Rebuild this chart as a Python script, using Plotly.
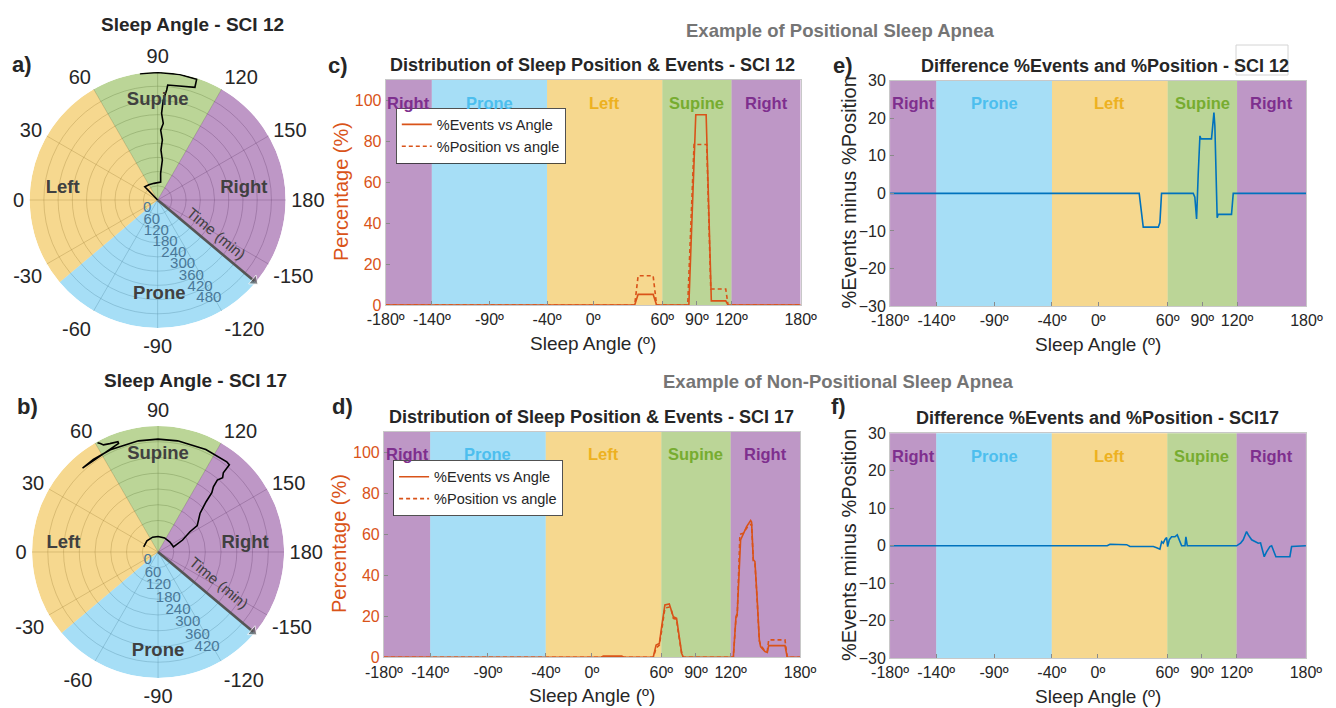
import plotly.graph_objects as go

W, H = 1336, 708
FONT = "Arial, Liberation Sans, sans-serif"
DARK = "#262626"
ORANGE = "#D95319"
BLUE = "#0072BD"

# ---------------- shared position bands ----------------
band_names = ["Right", "Prone", "Left", "Supine", "Right"]
band_starts = [-180, -140, -40, 60, 120]
band_ends = [-140, -40, 60, 120, 180]
pos_fill = {"Right": "rgba(126,47,142,0.5)", "Prone": "rgba(77,190,238,0.5)",
            "Left": "rgba(237,177,32,0.5)", "Supine": "rgba(119,172,48,0.5)"}
pos_text = {"Right": "#7E2F8E", "Prone": "#4DBEEE", "Left": "#EDB120", "Supine": "#77AC30"}

x_tickvals = [-180, -140, -90, -40, 0, 60, 90, 120, 180]
x_ticktext = ["-180º", "-140º", "-90º", "-40º", "0º", "60º", "90º", "120º", "180º"]

# ---------------- polar sectors ----------------
sector_names = ["Supine", "Right", "Prone", "Left"]
sector_from = [60, 120, 220, 320]
sector_to = [120, 220, 320, 420]
ang_tickvals = [0, 30, 60, 90, 120, 150, 180, 210, 240, 270, 300, 330]
ang_ticktext = ["0", "30", "60", "90", "120", "150", "180", "-150", "-120", "-90", "-60", "-30"]

# a) SCI 12 : sleep angle over time
a_theta = [46, 46, 60, 77.5, 99.5, 96.4, 96.7, 93.8, 94.5, 92.5, 94.2, 92.6, 93.2, 94.7, 95,
           108.3, 107.9, 100, 90, 82]
a_time = [0, 78, 74, 72, 77, 113, 170, 211, 254, 295, 324, 366, 422, 466, 487,
          501, 535, 538, 538, 538]
a_rmax = 540
a_rticks = [0, 60, 120, 180, 240, 300, 360, 420, 480]

# b) SCI 17 : sleep angle over time
b_theta = [20, 45, 70, 90, 115, 140, 155, 162, 154, 147.6, 146, 137.3, 133.7, 132.2, 130.3,
           129.5, 131, 129.5, 129.3, 127.3, 115, 100, 90, 80, 65, 55, 48,
           70, 70, 66, 63, 62, 61]
b_time = [58, 60, 60, 59, 59, 59, 60, 62, 104, 144, 180, 218, 265, 305, 326,
          355, 375, 391, 429, 432, 431, 430, 430, 430, 430, 430, 430,
          440, 447, 452, 458, 468, 476]
b_rmax = 480
b_rticks = [0, 60, 120, 180, 240, 300, 360, 420]

# c) SCI 12 distributions
c_angle_ev = [-180, 36, 39, 52, 55, 83, 89, 98, 102.5, 115, 117, 180]
c_events = [0, 0, 5.2, 5.2, 0, 0, 93, 93, 2, 2, 0, 0]
c_angle_pos = [-180, 36, 39, 52, 55, 82, 87.5, 98.5, 102, 115, 117, 180]
c_position = [0, 0, 14.3, 14.3, 0, 0, 78.5, 78.5, 7.8, 7.8, 0, 0]

# e) SCI 12 difference
e_angle = [-180, 35.4, 38.9, 51.9, 53.3, 54.7, 79, 82.1, 83.5, 85, 86.4, 87.9, 88.8, 97.9,
           100, 100.8, 102.8, 103.7, 115.2, 116.7, 180]
e_diff = [0, 0, -9, -9, -7.8, 0, 0, 0, -1, -6.8, 5, 15.3, 14.5, 14.5,
          21.5, 18, -6.5, -5.6, -5.6, 0, 0]

# d) SCI 17 distributions
d_angle_ev = [-180, 8, 9.8, 25.7, 27.5, 53, 55.5, 58.3, 60.3, 61.7, 63.1, 66.9, 68.9, 70.4,
              73.2, 74.7, 77.6, 79, 122.3, 124.6, 125.7, 128.6, 130.9, 133.8, 137.3, 138.1,
              139.6, 141, 143, 144.8, 145.9, 149.7, 151.7, 152.9, 167, 169, 180]
d_events = [0, 0, 0.6, 0.6, 0, 0, 6, 6.8, 15, 21.5, 25.5, 26, 23, 19.8,
            19, 13, 2, 0, 0, 19.8, 21.5, 57.2, 60.5, 63.7, 66.7, 66,
            47.5, 46.7, 28, 8.5, 5.2, 2.8, 2.4, 5.7, 5.7, 0, 0]
d_angle_pos = [-180, 8, 9.8, 25.7, 27.5, 53, 55.5, 58.3, 60.3, 61.7, 63.1, 66.9, 68.9, 70.4,
               73.2, 74.7, 77.6, 79, 122.3, 124.6, 125.7, 128, 130.9, 133.8, 137.3, 138.1,
               139.6, 141, 143, 144.8, 145.9, 149.7, 151.7, 152.9, 167, 169, 180]
d_position = [0, 0, 0.2, 0.2, 0, 0, 4.5, 6, 13, 20, 24, 24.5, 22.5, 19,
              18.5, 12, 2, 0, 0, 19, 20.5, 60, 60.5, 63, 65, 65,
              47, 46, 27, 8, 6, 3, 3, 8.5, 8.5, 0, 0]

# f) SCI 17 difference
f_angle = [-180, 8, 10.4, 24.8, 27.7, 47.9, 50.8, 53.6, 55.1, 56.5, 58, 59.4, 60.3, 61.7,
           63.7, 66.6, 68.6, 70.4, 72.4, 75.3, 76.1, 77.3, 120, 123.4, 125.7, 128.6, 130.1,
           133, 135.8, 138.7, 140.7, 142.5, 143.9, 145.9, 148.8, 150.3, 152.3, 154, 166.1,
           167.6, 180]
f_diff = [0, 0, 0.4, 0.3, -0.2, -0.2, -0.5, -0.9, 1.1, 0.7, 1.7, 2.2, -0.2, 1.6,
          2.4, 2.4, 2.9, 1.7, 0, 0, 2.4, 0, 0, 0.7, 1.6, 3.8, 2.9,
          1.6, 1.1, 0.7, 0.8, -1.1, -2.9, -1.6, -0.2, 0, -1.6, -2.9, -2.9,
          -0.2, 0]

fig = go.Figure()

# ---------------- polar charts ----------------
def add_polar(pid, theta, time, rmax, names_pos):
    for name, s, e in zip(sector_names, sector_from, sector_to):
        fig.add_trace(go.Barpolar(
            r=[rmax], theta=[(s + e) / 2], width=[e - s], subplot=pid,
            marker=dict(color=pos_fill[name], line=dict(width=0)),
            showlegend=False, hoverinfo="skip"))
    fig.add_trace(go.Scatterpolar(
        r=time, theta=theta, mode="lines", subplot=pid,
        line=dict(color="black", width=1.6), showlegend=False))
    # time axis arrow
    fig.add_trace(go.Scatterpolar(
        r=[0, rmax * 0.985], theta=[220, 220], mode="lines+markers", subplot=pid,
        line=dict(color="#555555", width=2.6),
        marker=dict(symbol="triangle-up", size=[0, 10], angle=130, color="#555555"),
        showlegend=False, hoverinfo="skip"))
    lab_theta, lab_r = names_pos
    fig.add_trace(go.Scatterpolar(
        r=lab_r, theta=lab_theta, mode="text", subplot=pid,
        text=["<b>%s</b>" % n for n in sector_names],
        textfont=dict(size=18.5, color="#404040", family=FONT),
        showlegend=False, hoverinfo="skip"))

add_polar("polar", a_theta, a_time, a_rmax, ([90, 172, -91, 7], [422, 367, 400, 404]))
add_polar("polar2", b_theta, b_time, b_rmax, ([90, 174.3, -90, 5.2], [373, 333, 380, 362]))

def polar_layout(domain_x, domain_y, rmax, rticks):
    return dict(
        domain=dict(x=domain_x, y=domain_y),
        bgcolor="white", bargap=0,
        angularaxis=dict(rotation=180, direction="clockwise", tickmode="array",
                         tickvals=ang_tickvals, ticktext=ang_ticktext,
                         tickfont=dict(size=20, color=DARK, family=FONT),
                         showline=False, gridcolor="rgba(90,90,90,0.35)", gridwidth=1,
                         ticks="outside", ticklen=1, tickcolor="rgba(0,0,0,0)"),
        radialaxis=dict(range=[0, rmax], tickmode="array", tickvals=rticks,
                        tickfont=dict(size=15, color="#4A7898", family=FONT),
                        showline=False, gridcolor="rgba(90,90,90,0.35)", gridwidth=1,
                        angle=-52, tickangle=-52, ticks="", layer="above traces"),
    )

# ---------------- cartesian charts ----------------
def add_lines(n, xs, ys, color, dash, name, legend):
    fig.add_trace(go.Scatter(
        x=xs, y=ys, mode="lines", xaxis="x%s" % n, yaxis="y%s" % n,
        line=dict(color=color, width=1.6, dash=dash), name=name,
        showlegend=legend is not None, legend=legend if legend else "legend"))

add_lines("", c_angle_ev, c_events, ORANGE, "solid", "%Events vs Angle", "legend")
add_lines("", c_angle_pos, c_position, ORANGE, "4px,3px", "%Position vs angle", "legend")
add_lines("2", d_angle_ev, d_events, ORANGE, "solid", "%Events vs Angle", "legend2")
add_lines("2", d_angle_pos, d_position, ORANGE, "4px,3px", "%Position vs angle", "legend2")
add_lines("3", e_angle, e_diff, BLUE, "solid", "diff", None)
add_lines("4", f_angle, f_diff, BLUE, "solid", "diff", None)

def xaxis_def(domain, anchor):
    return dict(domain=domain, anchor=anchor, range=[-180, 180], tickmode="array",
                tickvals=x_tickvals, ticktext=x_ticktext, showgrid=False, zeroline=False,
                showline=True, linecolor="#c8c8c8", mirror=True, ticks="inside", ticklen=4,
                tickcolor="#8a8a8a", tickfont=dict(size=16, color=DARK, family=FONT),
                automargin=False)

def yaxis_def(domain, anchor, rng, ticks, color):
    return dict(domain=domain, anchor=anchor, range=rng, tickmode="array", tickvals=ticks,
                showgrid=False, zeroline=False, showline=True, linecolor="#c8c8c8",
                mirror=True, ticks="inside", ticklen=4, tickcolor="#8a8a8a",
                tickfont=dict(size=16, color=color, family=FONT), automargin=False)

c_dom = ([0.2887, 0.5993], [0.5692, 0.8870])
d_dom = ([0.2874, 0.5988], [0.0716, 0.3903])
e_dom = ([0.6662, 0.9779], [0.5678, 0.8860])
f_dom = ([0.6662, 0.9775], [0.0702, 0.3880])
pct_ticks = [0, 20, 40, 60, 80, 100]
diff_ticks = [-30, -20, -10, 0, 10, 20, 30]

shapes = []
annotations = []
for n in ["", "2", "3", "4"]:
    for name, s, e in zip(band_names, band_starts, band_ends):
        shapes.append(dict(type="rect", xref="x%s" % n, yref="y%s domain" % n,
                           x0=s, x1=e, y0=0, y1=1, fillcolor=pos_fill[name],
                           line=dict(width=0), layer="below"))
        annotations.append(dict(xref="x%s" % n, yref="y%s domain" % n, x=(s + e) / 2,
                                y=0.948, text="<b>%s</b>" % name, showarrow=False,
                                font=dict(size=16.5, color=pos_text[name], family=FONT)))

# box around "SCI 12" in e title
shapes.append(dict(type="rect", xref="paper", yref="paper", x0=1236 / W, x1=1288 / W,
                   y0=1 - 75 / H, y1=1 - 45 / H, line=dict(color="#d4d4d4", width=1)))

def txt(x, y, text, size, color=DARK, bold=True, angle=0):
    annotations.append(dict(xref="paper", yref="paper", x=x / W, y=1 - y / H,
                            text=("<b>%s</b>" % text) if bold else text, showarrow=False,
                            textangle=angle, xanchor="center", yanchor="middle",
                            font=dict(size=size, color=color, family=FONT)))

txt(193, 24, "Sleep Angle - SCI 12", 19)
txt(195, 380, "Sleep Angle - SCI 17", 19)
txt(22, 64, "a)", 22)
txt(27, 407, "b)", 22)
txt(338, 65, "c)", 22)
txt(342, 406, "d)", 22)
txt(843, 66, "e)", 22)
txt(838, 406, "f)", 22)
txt(840, 31, "Example of Positional Sleep Apnea", 18.5, color="#757575")
txt(838, 381, "Example of Non-Positional Sleep Apnea", 18.5, color="#757575")
txt(592.5, 65, "Distribution of Sleep Position &amp; Events - SCI 12", 18)
txt(591.5, 417, "Distribution of Sleep Position &amp; Events - SCI 17", 18)
txt(1105, 66, "Difference %Events and %Position - SCI 12", 18)
txt(1097.5, 418, "Difference %Events and %Position - SCI17", 18)
txt(593, 343, "Sleep Angle (º)", 19, bold=False)
txt(592, 695, "Sleep Angle (º)", 19, bold=False)
txt(1098, 344, "Sleep Angle (º)", 19, bold=False)
txt(1098, 696, "Sleep Angle (º)", 19, bold=False)
txt(340.5, 191.5, "Percentage (%)", 20, color=ORANGE, bold=False, angle=-90)
txt(339, 544, "Percentage (%)", 20, color=ORANGE, bold=False, angle=-90)
txt(849, 192.5, "%Events minus %Position", 20, bold=False, angle=-90)
txt(849, 545, "%Events minus %Position", 20, bold=False, angle=-90)
txt(216.7, 233.3, "Time (min)", 15, color="#404040", bold=False, angle=40)
txt(219, 582, "Time (min)", 15, color="#404040", bold=False, angle=40)

legend_style = dict(bgcolor="white", bordercolor=DARK, borderwidth=0.8,
                    font=dict(size=14.5, color=DARK, family=FONT), xanchor="left",
                    yanchor="top", itemwidth=30, tracegroupgap=0)

fig.update_layout(
    width=W, height=H, margin=dict(l=0, r=0, t=0, b=0, pad=0, autoexpand=False),
    paper_bgcolor="white", plot_bgcolor="rgba(0,0,0,0)",
    font=dict(family=FONT, color=DARK),
    polar=polar_layout([0.0222, 0.2138], [0.5367, 0.8983], a_rmax, a_rticks),
    polar2=polar_layout([0.0240, 0.2126], [0.0424, 0.3983], b_rmax, b_rticks),
    xaxis=xaxis_def(c_dom[0], "y"), yaxis=yaxis_def(c_dom[1], "x", [0, 110], pct_ticks, ORANGE),
    xaxis2=xaxis_def(d_dom[0], "y2"), yaxis2=yaxis_def(d_dom[1], "x2", [0, 110], pct_ticks, ORANGE),
    xaxis3=xaxis_def(e_dom[0], "y3"), yaxis3=yaxis_def(e_dom[1], "x3", [-30, 30], diff_ticks, DARK),
    xaxis4=xaxis_def(f_dom[0], "y4"), yaxis4=yaxis_def(f_dom[1], "x4", [-30, 30], diff_ticks, DARK),
    legend=dict(x=396 / W, y=1 - 107.7 / H, **legend_style),
    legend2=dict(x=393.3 / W, y=1 - 460 / H, **legend_style),
    shapes=shapes, annotations=annotations,
)

fig.write_html("out.html")
